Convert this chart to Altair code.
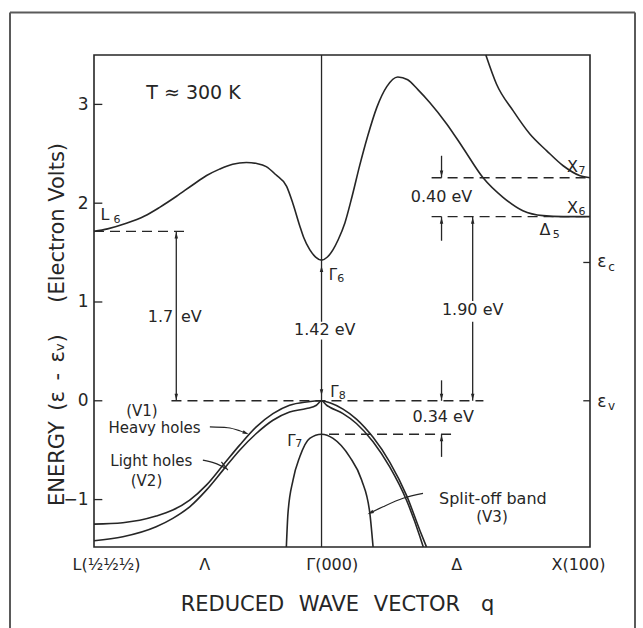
import altair as alt
import pandas as pd

# ---------------- data ----------------
Q_L, Q_X = -0.8475, 1.0
E_MIN, E_MAX = -1.48, 3.5

cond_q = [-0.8475, -0.797, -0.727, -0.659, -0.603, -0.540, -0.479, -0.428, -0.380, -0.331,
          -0.280, -0.238, -0.206, -0.171, -0.130, -0.107, -0.081, -0.066, -0.044, -0.022,
          0.0, 0.022, 0.043, 0.062, 0.087, 0.113, 0.142, 0.172, 0.206, 0.243,
          0.284, 0.321, 0.359, 0.403, 0.467, 0.526, 0.601, 0.676, 0.750, 0.825, 0.900, 1.0]
cond_E = [1.715, 1.74, 1.796, 1.87, 1.958, 2.07, 2.187, 2.28, 2.345, 2.395,
          2.412, 2.40, 2.37, 2.29, 2.17, 2.00, 1.77, 1.65, 1.53, 1.455,
          1.424, 1.455, 1.53, 1.63, 1.80, 2.06, 2.38, 2.68, 2.97, 3.18,
          3.278, 3.25, 3.15, 3.02, 2.80, 2.564, 2.26, 2.06, 1.924, 1.874, 1.864, 1.864]

x7_q = [0.612, 0.652, 0.714, 0.776, 0.839, 0.900, 0.963, 1.0]
x7_E = [3.5, 3.204, 2.934, 2.70, 2.53, 2.379, 2.278, 2.258]

v1_q = [-0.8475, -0.740, -0.616, -0.554, -0.491, -0.429, -0.367, -0.305, -0.243, -0.181, -0.119, -0.056, 0.0,
        0.031, 0.080, 0.130, 0.192, 0.254, 0.317, 0.366, 0.391]
v1_E = [-1.248, -1.234, -1.167, -1.106, -1.005, -0.854, -0.652, -0.449, -0.264, -0.13, -0.045, -0.012, 0.0,
        -0.02, -0.085, -0.185, -0.37, -0.62, -0.96, -1.31, -1.48]

v2_q = [-0.8475, -0.740, -0.616, -0.554, -0.491, -0.429, -0.367, -0.305, -0.243, -0.181, -0.119, -0.056, -0.019, 0.0,
        0.019, 0.031, 0.080, 0.130, 0.192, 0.254, 0.317, 0.366, 0.379]
v2_E = [-1.416, -1.376, -1.275, -1.19, -1.073, -0.904, -0.702, -0.50, -0.331, -0.197, -0.113, -0.079, -0.045, 0.0,
        -0.045, -0.065, -0.13, -0.23, -0.415, -0.67, -1.01, -1.37, -1.48]

so_q = [-0.131, -0.125, -0.106, -0.081, -0.044, 0.0, 0.043, 0.105, 0.149, 0.180, 0.192]
so_E = [-1.48, -1.14, -0.80, -0.567, -0.38, -0.338, -0.38, -0.567, -0.80, -1.14, -1.48]

# dashed reference levels: energy, start q, end q
lvl_E = [1.715, 0.0, -0.338, 2.258, 1.864]
lvl_q1 = [Q_L, -0.559, 0.028, 0.41, 0.41]
lvl_q2 = [-0.493, 0.603, 0.497, Q_X, Q_X]

# solid vertical segments: q, from E, to E
seg_q = [0.0, 0.0, -0.541, 0.563, 0.563, 0.447, 0.447, 0.447, 0.447]
seg_E1 = [0.80, E_MIN, 0.0, 0.0, 1.01, 2.258, 1.62, 0.0, -0.568]
seg_E2 = [E_MAX, 0.62, 1.715, 0.80, 1.864, 2.48, 1.864, 0.207, -0.338]

# arrow heads: q, E (centre), angle (0 = up)
arr_q = [-0.541, -0.541, 0.0, 0.0, 0.563, 0.563, 0.447, 0.447, 0.447, 0.447, -0.282, 0.182]
arr_E = [1.675, 0.04, 1.335, 0.085, 1.824, 0.04, 2.298, 1.824, 0.04, -0.378, -0.327, -1.134]
arr_ang = [0, 180, 0, 180, 0, 180, 180, 0, 180, 0, 113, 244]

# leader lines
lead_id = ["hh"] * 4 + ["lh"] * 3 + ["lhx"] * 2 + ["so"] * 4
lead_q = [-0.416, -0.349, -0.305, -0.283, -0.442, -0.398, -0.355, -0.373, -0.349, 0.378, 0.304, 0.229, 0.185]
lead_E = [-0.265, -0.273, -0.303, -0.325, -0.601, -0.631, -0.685, -0.618, -0.702, -0.937, -0.987, -1.073, -1.130]

# axis ticks (inward)
ytick_vals = [-1, 0, 1, 2, 3]
rtick_vals = [1.40, 0.0]

# axis labels
x_label_q = [-0.803, -0.437, 0.038, 0.502, 0.955]
x_labels = ["L(½½½)", "Λ", "Γ(000)", "Δ", "X(100)"]

# text annotations: text, q, E, font size
txt = ["T ≈ 300 K", "L", "6", "Γ", "6", "Γ", "8", "Γ", "7", "X", "7", "X", "6", "Δ", "5",
       "ε", "c", "ε", "v", "(V1)", "Heavy holes", "Light holes", "(V2)", "Split-off band", "(V3)",
       "1.7", "eV", "1.42 eV", "1.90 eV", "0.40 eV", "0.34 eV"]
txt_q = [-0.477, -0.807, -0.762, 0.042, 0.0716, 0.048, 0.077, -0.112, -0.085, 0.935, 0.970, 0.935, 0.970,
         0.832, 0.874, 1.044, 1.080, 1.044, 1.080, -0.669, -0.622, -0.634, -0.652, 0.638, 0.635,
         -0.600, -0.485, 0.012, 0.563, 0.447, 0.453]
txt_E = [3.12, 1.879, 1.830, 1.278, 1.232, 0.089, 0.05, -0.407, -0.441, 2.362, 2.325, 1.95, 1.914,
         1.732, 1.682, 1.402, 1.354, -0.012, -0.056, -0.100, -0.275, -0.611, -0.813, -0.995, -1.177,
         0.846, 0.846, 0.712, 0.914, 2.06, -0.163]
txt_fs = [19, 16, 11, 15, 11, 15, 11, 15, 11, 16, 11, 16, 11, 16, 11,
          17, 12, 17, 12, 15, 15, 15, 15, 16, 15,
          16, 16, 16, 16, 16, 16]

# axis titles (en/em/thin spaces keep the wide letter spacing of the original)
x_title = "REDUCED\u2002\u2009WAVE\u2002\u2009VECTOR\u2003q"
y_title = "ENERGY\u2002(ε\u2002-\u2002εᵥ)\u2003\u2002(Electron Volts)"

# ---------------- build tables ----------------
INK = "#262626"
FONT = "DejaVu Sans"

bands = pd.concat([
    pd.DataFrame({"band": "c", "q": cond_q, "E": cond_E}),
    pd.DataFrame({"band": "x7", "q": x7_q, "E": x7_E}),
    pd.DataFrame({"band": "v1", "q": v1_q, "E": v1_E}),
    pd.DataFrame({"band": "v2", "q": v2_q, "E": v2_E}),
    pd.DataFrame({"band": "so", "q": so_q, "E": so_E}),
])
levels = pd.DataFrame({"E": lvl_E, "q": lvl_q1, "q2": lvl_q2})
segs = pd.DataFrame({"q": seg_q, "E": seg_E1, "E2": seg_E2})
arrows = pd.DataFrame({"q": arr_q, "E": arr_E, "ang": arr_ang})
leads = pd.DataFrame({"id": lead_id, "q": lead_q, "E": lead_E, "o": range(len(lead_q))})
yticks = pd.DataFrame({"E": ytick_vals, "q": Q_L, "q2": Q_L + 0.031})
rticks = pd.DataFrame({"E": rtick_vals, "q": Q_X - 0.025, "q2": Q_X})
texts = pd.DataFrame({"t": txt, "q": txt_q, "E": txt_E, "fs": txt_fs})

xs = alt.Scale(domain=[Q_L, Q_X], nice=False, zero=False)
ys = alt.Scale(domain=[E_MIN, E_MAX], nice=False, zero=False)

label_expr = " : ".join(
    f"abs(datum.value - ({v})) < 0.001 ? '{t}'" for v, t in zip(x_label_q, x_labels)
) + " : ''"

xaxis = alt.Axis(values=x_label_q, labelExpr=label_expr, ticks=False, tickSize=0, domain=False,
                 grid=False, labelFontSize=16, labelFont=FONT, labelColor=INK, labelPadding=17,
                 labelBaseline="middle", title=x_title, titleFont=FONT,
                 titleFontSize=21, titleFontWeight="normal", titleColor=INK,
                 titleX=243, titleY=57, titleBaseline="middle", titleAnchor="middle")
yaxis = alt.Axis(values=ytick_vals, ticks=False, tickSize=0, domain=False, grid=False,
                 labelFontSize=17, labelFont=FONT, labelColor=INK, labelPadding=6,
                 title=y_title, titleFont=FONT, titleFontSize=21,
                 titleFontWeight="normal", titleColor=INK, titleAngle=-90, titleX=-37, titleY=269,
                 titleBaseline="middle", titleAlign="center")


def X(f="q"):
    return alt.X(f, type="quantitative", scale=xs, axis=xaxis)


def Y(f="E"):
    return alt.Y(f, type="quantitative", scale=ys, axis=yaxis)


band_layer = alt.Chart(bands).mark_line(color=INK, strokeWidth=1.6, interpolate="monotone").encode(
    x=X(), y=Y(), detail="band:N")

seg_layer = alt.Chart(segs).mark_rule(color=INK, strokeWidth=1.3).encode(
    x=X(), y=Y(), y2="E2:Q")

lvl_layer = alt.Chart(levels).mark_rule(color=INK, strokeWidth=1.4, strokeDash=[10, 6]).encode(
    x=X(), x2="q2:Q", y=Y())

tick_layer = alt.Chart(pd.concat([yticks, rticks])).mark_rule(color=INK, strokeWidth=1.3).encode(
    x=X(), x2="q2:Q", y=Y())

lead_layer = alt.Chart(leads).mark_line(color=INK, strokeWidth=1.2, interpolate="monotone").encode(
    x=X(), y=Y(), detail="id:N", order="o:Q")

arrow_layer = alt.Chart(arrows).mark_point(
    shape="M0,-1L0.55,1L-0.55,1Z", filled=True, color=INK, opacity=1, size=40).encode(
    x=X(), y=Y(), angle=alt.Angle("ang:Q", scale=None))

text_layer = alt.Chart(texts).mark_text(font=FONT, color=INK, align="center", baseline="middle").encode(
    x=X(), y=Y(), text="t:N", size=alt.Size("fs:Q", scale=None))

one = pd.DataFrame({"a": [0]})
border_col = "#5a5a5a"
border_top = alt.Chart(one).mark_rule(color=border_col, strokeWidth=2).encode(
    x=alt.value(-84), x2=alt.value(541), y=alt.value(-42.5))
border_left = alt.Chart(one).mark_rule(color=border_col, strokeWidth=2).encode(
    x=alt.value(-84), y=alt.value(-42.5), y2=alt.value(573))
border_right = alt.Chart(one).mark_rule(color=border_col, strokeWidth=2).encode(
    x=alt.value(541), y=alt.value(-42.5), y2=alt.value(573))

chart = alt.layer(
    band_layer, seg_layer, lvl_layer, tick_layer, lead_layer, arrow_layer, text_layer,
    border_top, border_left, border_right
).properties(
    width=496, height=492,
    padding={"left": 94, "top": 55, "right": 53, "bottom": 81},
    autosize=alt.AutoSizeParams(type="none"),
    background="white",
).configure_view(
    stroke=INK, strokeWidth=1.6
)

chart.save("out.html", embed_options={"renderer": "svg", "actions": False})
